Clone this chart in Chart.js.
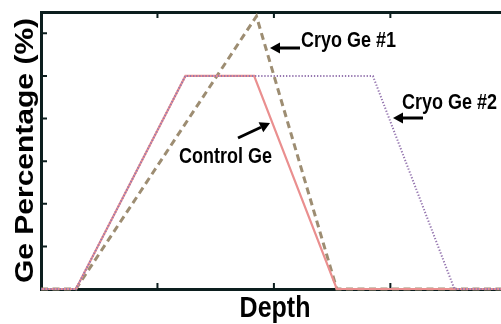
<!DOCTYPE html>
<html lang="en">
<head>
    <meta charset="UTF-8">
    <title>Ge Percentage vs Depth</title>
    <script src="https://cdn.jsdelivr.net/npm/chart.js"></script>
    <style>
        body { margin: 0; background: white; }
        #wrap { width: 501px; height: 324px; }
    </style>
</head>
<body>
    <div id="wrap">
        <canvas id="geChart" width="501" height="324"></canvas>
    </div>

    <script>
        // depth in arbitrary units, Ge in %
        const controlDepth = [0, 30, 124, 183, 254, 395];
        const controlGe    = [0, 0, 5, 5, 0, 0];
        const cryo1Depth   = [0, 30, 185, 254, 395];
        const cryo1Ge      = [0, 0, 6.4, 0, 0];
        const cryo2Depth   = [0, 30, 124, 285, 355, 395];
        const cryo2Ge      = [0, 0, 5, 5, 0, 0];
        const depthTicks   = [100, 200, 300];
        const geTicks      = [1, 2, 3, 4, 5, 6];

        const toPoints = (xs, ys) => xs.map((x, i) => ({ x: x, y: ys[i] }));

        const FONT = '"Liberation Sans", Arial, Helvetica, sans-serif';
        const AXIS_COLOR = '#0c1e1e';

        // labels with arrows, in canvas pixels
        const notes = [
            { text: 'Cryo Ge #1', x: 301, y: 47, from: [300, 48], to: [270, 48] },
            { text: 'Cryo Ge #2', x: 402, y: 109, from: [423, 118], to: [393, 118] },
            { text: 'Control Ge', x: 179, y: 163, from: [238, 138], to: [270, 123] }
        ];

        function drawArrow(ctx, from, to) {
            const ang = Math.atan2(to[1] - from[1], to[0] - from[0]);
            const headLen = 10, headW = 5.5;
            const bx = to[0] - headLen * Math.cos(ang);
            const by = to[1] - headLen * Math.sin(ang);
            ctx.beginPath();
            ctx.moveTo(from[0], from[1]);
            ctx.lineTo(bx, by);
            ctx.lineWidth = 3;
            ctx.strokeStyle = '#000';
            ctx.stroke();
            ctx.beginPath();
            ctx.moveTo(to[0], to[1]);
            ctx.lineTo(bx + headW * Math.sin(ang), by - headW * Math.cos(ang));
            ctx.lineTo(bx - headW * Math.sin(ang), by + headW * Math.cos(ang));
            ctx.closePath();
            ctx.fillStyle = '#000';
            ctx.fill();
        }

        const innerTicks = {
            id: 'innerTicks',
            beforeDatasetsDraw(chart) {
                const { ctx, chartArea, scales } = chart;
                ctx.save();
                ctx.strokeStyle = AXIS_COLOR;
                ctx.lineWidth = 2;
                ctx.beginPath();
                geTicks.forEach(v => {
                    const y = scales.y.getPixelForValue(v);
                    ctx.moveTo(chartArea.left, y);
                    ctx.lineTo(chartArea.left + 6, y);
                });
                depthTicks.forEach(v => {
                    const x = scales.x.getPixelForValue(v);
                    ctx.moveTo(x, chartArea.bottom);
                    ctx.lineTo(x, chartArea.bottom - 6);
                    ctx.moveTo(x, chartArea.top);
                    ctx.lineTo(x, chartArea.top + 6);
                });
                ctx.stroke();
                ctx.restore();
            }
        };

        const labels = {
            id: 'labels',
            afterDraw(chart) {
                const { ctx, chartArea } = chart;
                ctx.save();
                ctx.fillStyle = '#000';

                // axis titles (source figure is a bit stretched vertically)
                ctx.font = 'bold 25px ' + FONT;
                ctx.textAlign = 'center';
                ctx.textBaseline = 'alphabetic';
                ctx.save();
                ctx.translate((chartArea.left + chartArea.right) / 2 + 4, 317);
                ctx.scale(1, 1.16);
                ctx.fillText('Depth', 0, 0);
                ctx.restore();

                ctx.save();
                ctx.translate(33, (chartArea.top + chartArea.bottom) / 2);
                ctx.scale(1, 1.2);
                ctx.rotate(-Math.PI / 2);
                ctx.fillText('Ge Percentage (%)', 0, 0);
                ctx.restore();

                ctx.font = 'bold 18px ' + FONT;
                ctx.textAlign = 'left';
                notes.forEach(n => {
                    ctx.save();
                    ctx.translate(n.x, n.y);
                    ctx.scale(1, 1.2);
                    ctx.fillText(n.text, 0, 0);
                    ctx.restore();
                    drawArrow(ctx, n.from, n.to);
                });
                ctx.restore();
            }
        };

        const hiddenAxis = {
            ticks: { display: false },
            grid: { display: false, drawTicks: false },
            border: { display: true, color: AXIS_COLOR, width: 3 }
        };

        new Chart(document.getElementById('geChart'), {
            type: 'line',
            data: {
                datasets: [{
                    label: 'Cryo Ge #2',
                    data: toPoints(cryo2Depth, cryo2Ge),
                    borderColor: '#9677b0',
                    borderWidth: 2,
                    borderDash: [1.3, 1.8],
                    pointRadius: 0,
                    tension: 0,
                    clip: false
                }, {
                    label: 'Control Ge',
                    data: toPoints(controlDepth, controlGe),
                    borderColor: '#ea8f8f',
                    borderWidth: 2.2,
                    pointRadius: 0,
                    tension: 0,
                    clip: false
                }, {
                    label: 'Cryo Ge #1',
                    data: toPoints(cryo1Depth, cryo1Ge),
                    borderColor: '#9d8d72',
                    borderWidth: 3,
                    borderDash: [7, 4.5],
                    pointRadius: 0,
                    tension: 0,
                    clip: false
                }]
            },
            options: {
                responsive: false,
                animation: false,
                events: [],
                layout: { padding: { left: 41, top: 12, right: 0, bottom: 35 } },
                plugins: {
                    legend: { display: false },
                    tooltip: { enabled: false }
                },
                scales: {
                    x: Object.assign({ type: 'linear', position: 'bottom', min: 0, max: 395 }, hiddenAxis),
                    xTop: Object.assign({ type: 'linear', position: 'top', min: 0, max: 395 }, hiddenAxis),
                    y: Object.assign({ type: 'linear', position: 'left', min: 0, max: 6.5 }, hiddenAxis)
                }
            },
            plugins: [innerTicks, labels]
        });
    </script>
</body>
</html>
